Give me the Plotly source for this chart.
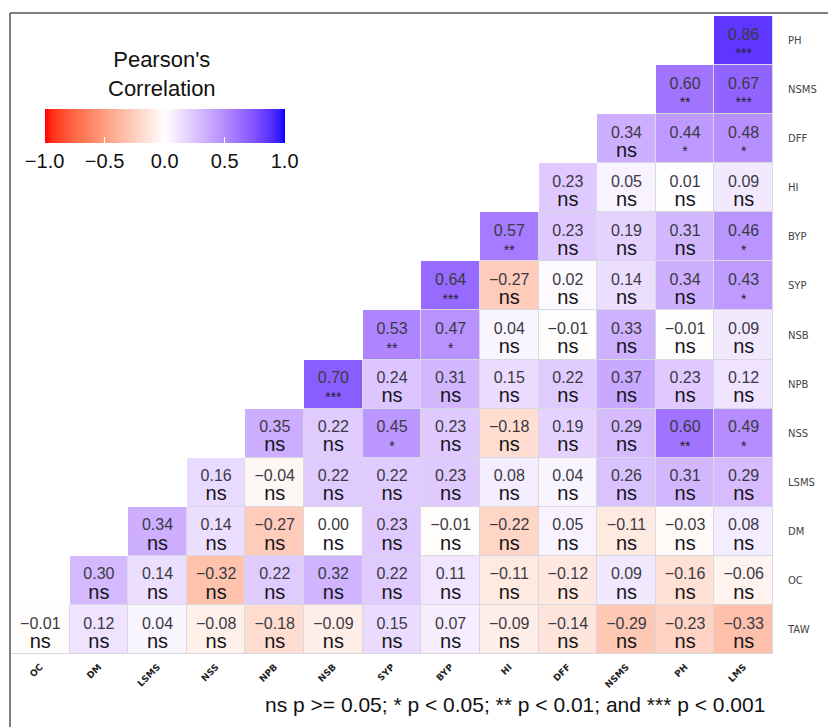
import numpy as np
import plotly.graph_objects as go

cols = ["OC", "DM", "LSMS", "NSS", "NPB", "NSB", "SYP", "BYP", "HI", "DFF", "NSMS", "PH", "LMS"]
rows = ["TAW", "OC", "DM", "LSMS", "NSS", "NPB", "NSB", "SYP", "BYP", "HI", "DFF", "NSMS", "PH"]

# correlation values per row (row i starts at column i)
r_TAW = [-0.01, 0.12, 0.04, -0.08, -0.18, -0.09, 0.15, 0.07, -0.09, -0.14, -0.29, -0.23, -0.33]
r_OC = [0.30, 0.14, -0.32, 0.22, 0.32, 0.22, 0.11, -0.11, -0.12, 0.09, -0.16, -0.06]
r_DM = [0.34, 0.14, -0.27, 0.00, 0.23, -0.01, -0.22, 0.05, -0.11, -0.03, 0.08]
r_LSMS = [0.16, -0.04, 0.22, 0.22, 0.23, 0.08, 0.04, 0.26, 0.31, 0.29]
r_NSS = [0.35, 0.22, 0.45, 0.23, -0.18, 0.19, 0.29, 0.60, 0.49]
r_NPB = [0.70, 0.24, 0.31, 0.15, 0.22, 0.37, 0.23, 0.12]
r_NSB = [0.53, 0.47, 0.04, -0.01, 0.33, -0.01, 0.09]
r_SYP = [0.64, -0.27, 0.02, 0.14, 0.34, 0.43]
r_BYP = [0.57, 0.23, 0.19, 0.31, 0.46]
r_HI = [0.23, 0.05, 0.01, 0.09]
r_DFF = [0.34, 0.44, 0.48]
r_NSMS = [0.60, 0.67]
r_PH = [0.86]

# significance labels per row
s_TAW = ["ns"] * 13
s_OC = ["ns"] * 12
s_DM = ["ns"] * 11
s_LSMS = ["ns"] * 10
s_NSS = ["ns", "ns", "*", "ns", "ns", "ns", "ns", "**", "*"]
s_NPB = ["***", "ns", "ns", "ns", "ns", "ns", "ns", "ns"]
s_NSB = ["**", "*", "ns", "ns", "ns", "ns", "ns"]
s_SYP = ["***", "ns", "ns", "ns", "ns", "*"]
s_BYP = ["**", "ns", "ns", "ns", "*"]
s_HI = ["ns", "ns", "ns", "ns"]
s_DFF = ["ns", "*", "*"]
s_NSMS = ["**", "***"]
s_PH = ["***"]

r_rows = [r_TAW, r_OC, r_DM, r_LSMS, r_NSS, r_NPB, r_NSB, r_SYP, r_BYP, r_HI, r_DFF, r_NSMS, r_PH]
s_rows = [s_TAW, s_OC, s_DM, s_LSMS, s_NSS, s_NPB, s_NSB, s_SYP, s_BYP, s_HI, s_DFF, s_NSMS, s_PH]

cbar_ticks = [-1, -0.5, 0, 0.5, 1]
cbar_ticktext = ["\u22121.0", "\u22120.5", "0.0", "0.5", "1.0"]
legend_title = "Pearson's<br>Correlation"
caption = "ns p >= 0.05; * p < 0.05; ** p < 0.01; and *** p < 0.001"

FONT = "Liberation Sans, Arial"


# ---- Lab-interpolated diverging colorscale (red - white - blue) ----
def srgb_to_lab(rgb):
    c = np.array(rgb, dtype=float) / 255.0
    c = np.where(c <= 0.04045, c / 12.92, ((c + 0.055) / 1.055) ** 2.4)
    M = np.array([[0.4124, 0.3576, 0.1805], [0.2126, 0.7152, 0.0722], [0.0193, 0.1192, 0.9505]])
    xyz = M @ c
    xyz = xyz / np.array([0.95047, 1.0, 1.08883])
    f = np.where(xyz > 0.008856, np.cbrt(xyz), 7.787 * xyz + 16 / 116)
    return np.array([116 * f[1] - 16, 500 * (f[0] - f[1]), 200 * (f[1] - f[2])])


def lab_to_srgb(lab):
    L, a, b = lab
    fy = (L + 16) / 116
    fx = fy + a / 500
    fz = fy - b / 200
    f = np.array([fx, fy, fz])
    xyz = np.where(f ** 3 > 0.008856, f ** 3, (f - 16 / 116) / 7.787)
    xyz = xyz * np.array([0.95047, 1.0, 1.08883])
    Minv = np.array([[3.2406, -1.5372, -0.4986], [-0.9689, 1.8758, 0.0415], [0.0557, -0.2040, 1.0570]])
    c = Minv @ xyz
    c = np.where(c <= 0.0031308, 12.92 * c, 1.055 * np.clip(c, 0, None) ** (1 / 2.4) - 0.055)
    c = np.clip(c, 0, 1) * 255
    return "rgb(%d,%d,%d)" % tuple(np.round(c).astype(int))


lab_red = srgb_to_lab((255, 0, 0))
lab_white = srgb_to_lab((255, 255, 255))
lab_blue = srgb_to_lab((0, 0, 255))
colorscale = []
N = 20
for k in range(N + 1):
    t = k / N
    colorscale.append([t / 2, lab_to_srgb(lab_red + (lab_white - lab_red) * t)])
for k in range(1, N + 1):
    t = k / N
    colorscale.append([0.5 + t / 2, lab_to_srgb(lab_white + (lab_blue - lab_white) * t)])

# ---- build matrices ----
n = len(cols)
z = [[None] * n for _ in range(n)]
under = [[None] * n for _ in range(n)]
vx, vy, vt = [], [], []
nx, ny = [], []
sx, sy, st = [], [], []
for i, (rv, sv) in enumerate(zip(r_rows, s_rows)):
    for k, (v, s) in enumerate(zip(rv, sv)):
        j = i + k
        z[i][j] = v
        under[i][j] = 1
        vx.append(j)
        vy.append(i + 0.1)
        vt.append(("%.2f" % v).replace("-", "\u2212"))
        if s == "ns":
            nx.append(j)
            ny.append(i - 0.27)
        else:
            sx.append(j)
            sy.append(i - 0.29)
            st.append(s)

# plot area geometry (pixels)
W, H = 828, 727
ML, MR, MT, MB = 11, 46, 16, 73
PW, PH_ = W - ML - MR, H - MT - MB


def px_x(p):
    return (p - ML) / PW


def px_y(p):
    return (H - MB - p) / PH_


fig = go.Figure()
fig.add_trace(go.Heatmap(z=under, x=list(range(n)), y=list(range(n)),
                         colorscale=[[0, "#d8d8e0"], [1, "#d8d8e0"]], showscale=False,
                         hoverinfo="skip"))
fig.add_trace(go.Heatmap(
    z=z, x=list(range(n)), y=list(range(n)), zmin=-1, zmax=1,
    colorscale=colorscale, xgap=1, ygap=1,
    colorbar=dict(
        orientation="h", x=px_x(45), xanchor="left", y=px_y(109), yanchor="top",
        xpad=0, ypad=0,
        lenmode="pixels", len=240, thickness=34, outlinewidth=0,
        tickvals=cbar_ticks, ticktext=cbar_ticktext,
        tickfont=dict(size=20, color="#111111", family=FONT),
        ticks="inside", ticklen=6, tickcolor="white",
    ),
))
fig.add_trace(go.Scatter(x=vx, y=vy, text=vt, mode="text", textposition="middle center",
                         textfont=dict(size=16, color="#3a3a44", family=FONT),
                         hoverinfo="skip", showlegend=False))
fig.add_trace(go.Scatter(x=nx, y=ny, text=["ns"] * len(nx), mode="text", textposition="middle center",
                         textfont=dict(size=20, color="#15151a", family=FONT),
                         hoverinfo="skip", showlegend=False))
fig.add_trace(go.Scatter(x=sx, y=sy, text=st, mode="text", textposition="middle center",
                         textfont=dict(size=14, color="#22222a", family=FONT),
                         hoverinfo="skip", showlegend=False))

annotations = [
    dict(text=legend_title, xref="paper", yref="paper", x=px_x(164), y=px_y(74),
         xanchor="center", yanchor="middle", showarrow=False,
         font=dict(size=22, color="#111111", family=FONT)),
    dict(text=caption, xref="paper", yref="paper", x=px_x(776), y=px_y(704),
         xanchor="right", yanchor="middle", showarrow=False,
         font=dict(size=21, color="#111111", family=FONT)),
]

fig.update_layout(
    width=W, height=H,
    margin=dict(l=ML, r=MR, t=MT, b=MB),
    paper_bgcolor="white", plot_bgcolor="white",
    showlegend=False,
    xaxis=dict(range=[-0.5, n - 0.5], tickvals=list(range(n)), ticktext=cols,
               tickangle=-45, tickfont=dict(size=9, color="#222222", family="DejaVu Sans", weight="bold"),
               showgrid=False, zeroline=False, showline=False, ticks="", ticklabelstandoff=5),
    yaxis=dict(range=[-0.5, n - 0.5], tickvals=list(range(n)), ticktext=rows, side="right",
               tickfont=dict(size=10, color="#444444", family="DejaVu Sans"),
               showgrid=False, zeroline=False, showline=False, ticks="", ticklabelstandoff=14),
    shapes=[
        dict(type="line", xref="paper", yref="paper", x0=px_x(10), x1=px_x(840),
             y0=px_y(13), y1=px_y(13), line=dict(color="#555555", width=1.5)),
        dict(type="line", xref="paper", yref="paper", x0=px_x(10), x1=px_x(10),
             y0=px_y(740), y1=px_y(13), line=dict(color="#555555", width=1.5)),
    ],
    annotations=annotations,
)

fig.write_html("out.html")
